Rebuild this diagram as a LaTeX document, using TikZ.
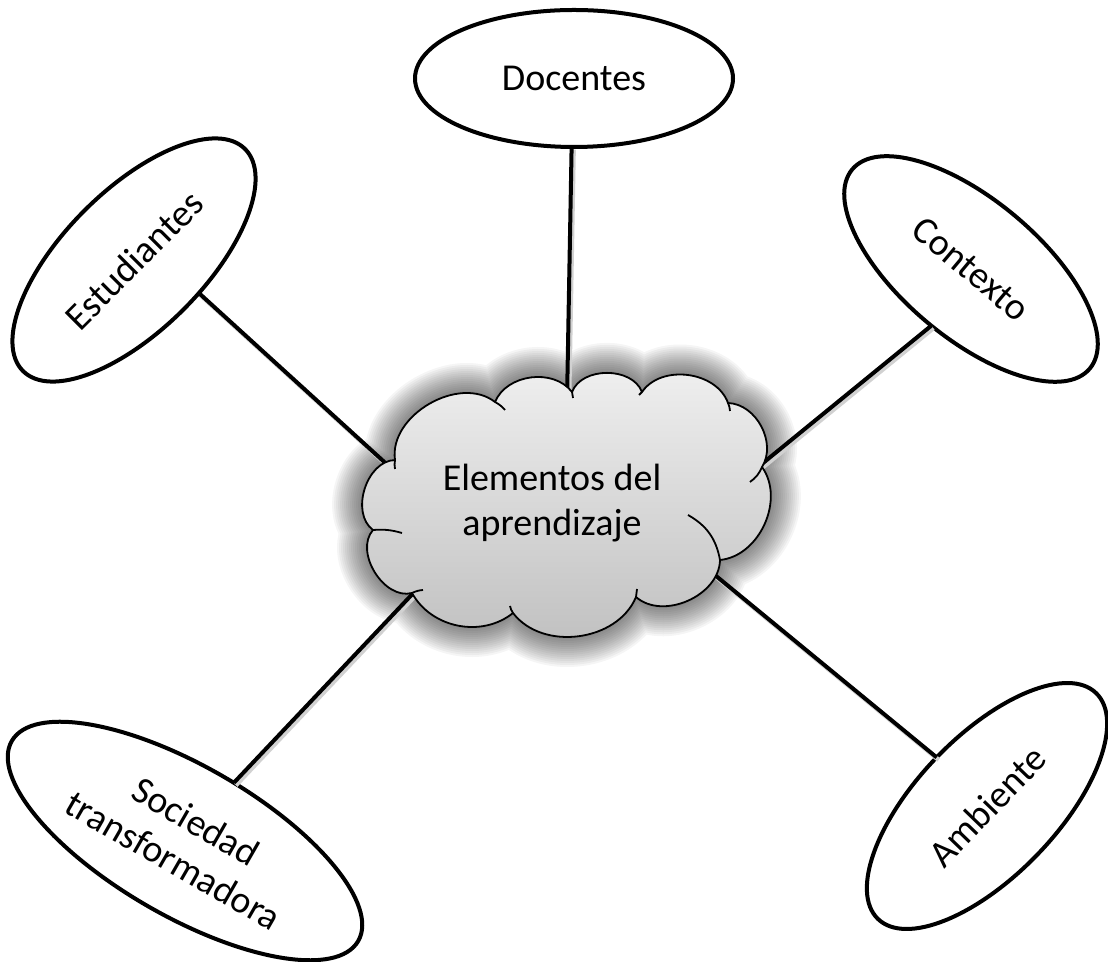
\documentclass[tikz,border=0pt]{standalone}
\usepackage{fontspec}
\setmainfont{Carlito}
\usetikzlibrary{shapes.geometric}
\newcommand\mycloudshape{(A) to[bend left=60] (B) to[bend left=69] (C) to[bend left=63] (D) to[bend left=60] (E) to[bend left=60] (F) to[bend left=65] (G) to[bend left=60] (H) to[bend left=50] (I) to[bend left=73] (J) to[bend left=71] (K) to[bend left=68] (A) -- cycle}
\begin{document}
\begin{tikzpicture}[x=1pt,y=1pt,
  lbl/.style={font=\fontsize{38}{45}\selectfont},
  oval/.style={ellipse, draw, line width=4pt, fill=white, inner sep=0pt, outer sep=0pt, lbl, align=center},
  conn/.style={line width=4pt, preaction={draw=black!18, line width=4.5pt, transform canvas={shift={(2pt,-2.5pt)}}}},
  hook/.style={line width=1.8pt},
  cloudline/.style={line width=1.8pt, line join=round},
]
\useasboundingbox (0,0) rectangle (1108,961);
% cloud junctions
\coordinate (A) at (495,559); \coordinate (Ah) at (505,551);
\coordinate (B) at (572,569); \coordinate (Bh) at (573,563);
\coordinate (C) at (642,569); \coordinate (Ch) at (639,566);
\coordinate (D) at (728,558); \coordinate (Dh) at (730,550);
\coordinate (E) at (762,494); \coordinate (Eh) at (750,479);
\coordinate (F) at (720,401); \coordinate (Fh) at (688,446);
\coordinate (G) at (636,364); \coordinate (Gh) at (637,372);
\coordinate (H) at (513,348); \coordinate (Hh) at (510,355);
\coordinate (I) at (412,368); \coordinate (Ih) at (423,371);
\coordinate (J) at (373,431); \coordinate (Jh) at (402,428);
\coordinate (K) at (395,501); \coordinate (Kh) at (395,492);
% connector ends inside the cloud
\coordinate (cDoc) at (567,560);
\coordinate (cEst) at (392,492);
\coordinate (cCon) at (752,489);
\coordinate (cSoc) at (420,375);
\coordinate (cAmb) at (710,390);
% glow
\foreach \w in {60,56,...,4} {
  \draw[line width=\w pt, black, opacity=0.04, line join=round] \mycloudshape;
}
% outer nodes
\node[oval, minimum width=318pt, minimum height=137pt] (doc) at (574,882.5) {Docentes};
\node[oval, minimum width=314pt, minimum height=140pt, rotate=45] (est) at (134,701) {Estudiantes};
\node[oval, minimum width=310pt, minimum height=138pt, rotate=-40] (con) at (971,692) {Contexto};
\node[oval, minimum width=400pt, minimum height=150pt, rotate=-30] (soc) at (185,120) {Sociedad\\transformadora};
\node[oval, minimum width=314pt, minimum height=140pt, rotate=46] (amb) at (987,155) {Ambiente};
% connectors
\draw[conn] (doc.-92) -- (cDoc);
\draw[conn] (est.-72) -- (cEst);
\draw[conn] (con.-85) -- (cCon);
\draw[conn] (soc.80) -- (cSoc);
\draw[conn] (amb.90) -- (cAmb);
% cloud
\shade[top color=gray!12, bottom color=gray!50] \mycloudshape;
\draw[cloudline] \mycloudshape;
\draw[hook] (A) to[bend left=10] (Ah);
\draw[hook] (B) -- (Bh);
\draw[hook] (C) -- (Ch);
\draw[hook] (D) to[bend left=10] (Dh);
\draw[hook] (E) to[bend left=15] (Eh);
\draw[hook] (F) to[bend right=25] (Fh);
\draw[hook] (G) -- (Gh);
\draw[hook] (H) to[bend left=10] (Hh);
\draw[hook] (I) to[bend left=10] (Ih);
\draw[hook] (J) to[bend left=10] (Jh);
\draw[hook] (K) to[bend right=10] (Kh);
\node[lbl, align=center, inner sep=0pt] (cl) at (552,458) {Elementos del\\aprendizaje};
\end{tikzpicture}
\end{document}
